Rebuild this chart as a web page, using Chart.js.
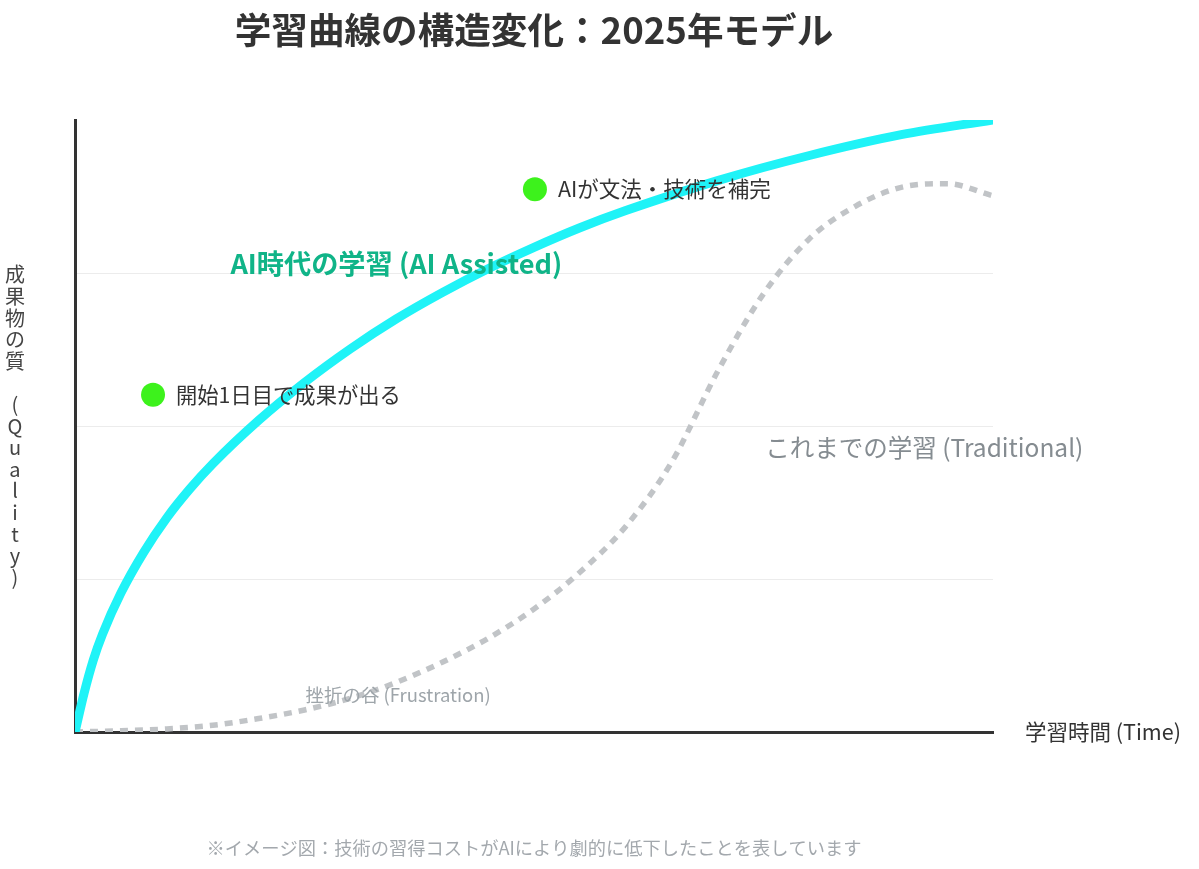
<!DOCTYPE html>
<html lang="ja">
<head>
<meta charset="utf-8">
<title>学習曲線の構造変化：2025年モデル</title>
<script src="https://cdn.jsdelivr.net/npm/chart.js@4.4.1/dist/chart.umd.min.js"></script>
<style>
  html, body { margin: 0; padding: 0; background: #ffffff; }
  #wrap { width: 1199px; height: 869px; position: relative; }
</style>
</head>
<body>
<div id="wrap"><canvas id="c" width="1199" height="869"></canvas></div>
<script>
// ---- data ----
const chartTitle = '学習曲線の構造変化：2025年モデル';
const footNote = '※イメージ図：技術の習得コストがAIにより劇的に低下したことを表しています';
const xAxisTitle = '学習時間 (Time)';
const yAxisTitle = '成果物の質 (Quality)';

const aiTime    = [0, 1, 2, 3, 5, 7.5, 10, 12.5, 15, 20, 25, 30, 35, 40, 45, 50, 55, 60, 70, 80, 90, 100];
const aiQuality = [0, 6.4, 11.8, 16, 22.7, 29.4, 35, 39.7, 43.8, 50.9, 57.1, 62.6, 67.5, 71.8, 75.7, 79.2, 82.4, 85.2, 90.1, 94.2, 97.6, 100];

const tradTime    = [0, 5, 10, 15, 20, 25, 30, 35, 40, 45, 50, 55, 60, 65, 70, 75, 80, 85, 90, 95, 100];
const tradQuality = [0, 0.2, 0.5, 1.1, 2.2, 3.6, 5.5, 8.1, 11.4, 15.3, 20.1, 26.1, 33.6, 44.1, 58.9, 71.6, 80.6, 85.9, 89, 89.6, 87.6];

const milestoneTime    = [8.5, 50.1];
const milestoneQuality = [55.1, 88.7];
const milestoneLabels  = ['開始1日目で成果が出る', 'AIが文法・技術を補完'];

const seriesLabels = ['AI時代の学習 (AI Assisted)', 'これまでの学習 (Traditional)', '挫折の谷 (Frustration)'];
const yGridTicks = [0, 25, 50, 75, 100];

// ---- build datasets ----
const toPoints = (xs, ys) => xs.map((x, i) => ({ x: x, y: ys[i] }));
const FONT = '"Noto Sans CJK JP", "Noto Sans", sans-serif';

const textPlugin = {
  id: 'texts',
  afterDatasetsDraw(chart) {
    const { ctx, chartArea: a, scales: { x, y } } = chart;
    ctx.save();
    ctx.textBaseline = 'middle';
    const cx = (a.left + a.right) / 2;

    // title
    ctx.fillStyle = '#333333';
    ctx.font = 'bold 36.6px ' + FONT;
    ctx.textAlign = 'center';
    ctx.fillText(chartTitle, cx, 30);

    // footnote
    ctx.fillStyle = '#a3a8ad';
    ctx.font = '18.25px ' + FONT;
    ctx.fillText(footNote, cx, 848);

    // series labels
    ctx.fillStyle = '#10b488';
    ctx.font = 'bold 27.2px ' + FONT;
    ctx.textAlign = 'center';
    ctx.fillText(seriesLabels[0], x.getPixelForValue(35), y.getPixelForValue(76.6));

    ctx.fillStyle = '#858c91';
    ctx.font = '24.5px ' + FONT;
    ctx.textAlign = 'left';
    ctx.fillText(seriesLabels[1], x.getPixelForValue(75.2), y.getPixelForValue(46.4));

    ctx.fillStyle = '#9ea5aa';
    ctx.font = '18.5px ' + FONT;
    ctx.textAlign = 'center';
    ctx.fillText(seriesLabels[2], x.getPixelForValue(35.2), y.getPixelForValue(6.0));

    // milestone labels
    const meta = chart.getDatasetMeta(2);
    ctx.fillStyle = '#333333';
    ctx.textAlign = 'left';
    meta.data.forEach((pt, i) => {
      ctx.font = (i === 0 ? '21.3px ' : '21.5px ') + FONT;
      ctx.fillText(milestoneLabels[i], pt.x + 23, pt.y);
    });

    // x axis title
    ctx.fillStyle = '#333333';
    ctx.font = '21.5px ' + FONT;
    ctx.textAlign = 'left';
    ctx.fillText(xAxisTitle, a.right + 32, a.bottom);

    // y axis title (upright, stacked)
    ctx.fillStyle = '#444444';
    ctx.font = '20px ' + FONT;
    ctx.textAlign = 'center';
    const chars = Array.from(yAxisTitle);
    const step = 21.6;
    const midY = (a.top + a.bottom) / 2;
    const startY = midY - (chars.length - 1) / 2 * step;
    chars.forEach((ch, i) => {
      if (ch !== ' ') ctx.fillText(ch, 15, startY + i * step);
    });
    ctx.restore();
  }
};

new Chart(document.getElementById('c'), {
  type: 'line',
  data: {
    datasets: [
      {
        label: seriesLabels[0],
        data: toPoints(aiTime, aiQuality),
        borderColor: '#1ff3f7',
        borderWidth: 9,
        pointRadius: 0,
        cubicInterpolationMode: 'monotone',
        fill: false,
        order: 2
      },
      {
        label: seriesLabels[1],
        data: toPoints(tradTime, tradQuality),
        borderColor: '#c1c4c7',
        borderWidth: 5.5,
        borderDash: [8, 7],
        pointRadius: 0,
        cubicInterpolationMode: 'monotone',
        fill: false,
        order: 3
      },
      {
        type: 'scatter',
        label: 'milestones',
        data: toPoints(milestoneTime, milestoneQuality),
        backgroundColor: '#3df21c',
        borderWidth: 0,
        pointRadius: 12,
        order: 1
      }
    ]
  },
  options: {
    responsive: false,
    animation: false,
    layout: { padding: { left: 75, top: 120, right: 206, bottom: 137 } },
    plugins: {
      legend: { display: false },
      title: { display: false },
      tooltip: { enabled: false }
    },
    scales: {
      x: {
        type: 'linear',
        min: 0,
        max: 100,
        ticks: { display: false },
        grid: { display: false, drawTicks: false },
        border: { display: true, color: '#333333', width: 3 }
      },
      y: {
        type: 'linear',
        min: 0,
        max: 100,
        afterBuildTicks: (scale) => { scale.ticks = yGridTicks.map(v => ({ value: v })); },
        ticks: { display: false },
        grid: {
          drawTicks: false,
          lineWidth: 1,
          color: (c) => (c.tick && (c.tick.value === 0 || c.tick.value === 100)) ? 'rgba(0,0,0,0)' : '#ececec'
        },
        border: { display: true, color: '#333333', width: 3 }
      }
    }
  },
  plugins: [textPlugin]
});
</script>
</body>
</html>
